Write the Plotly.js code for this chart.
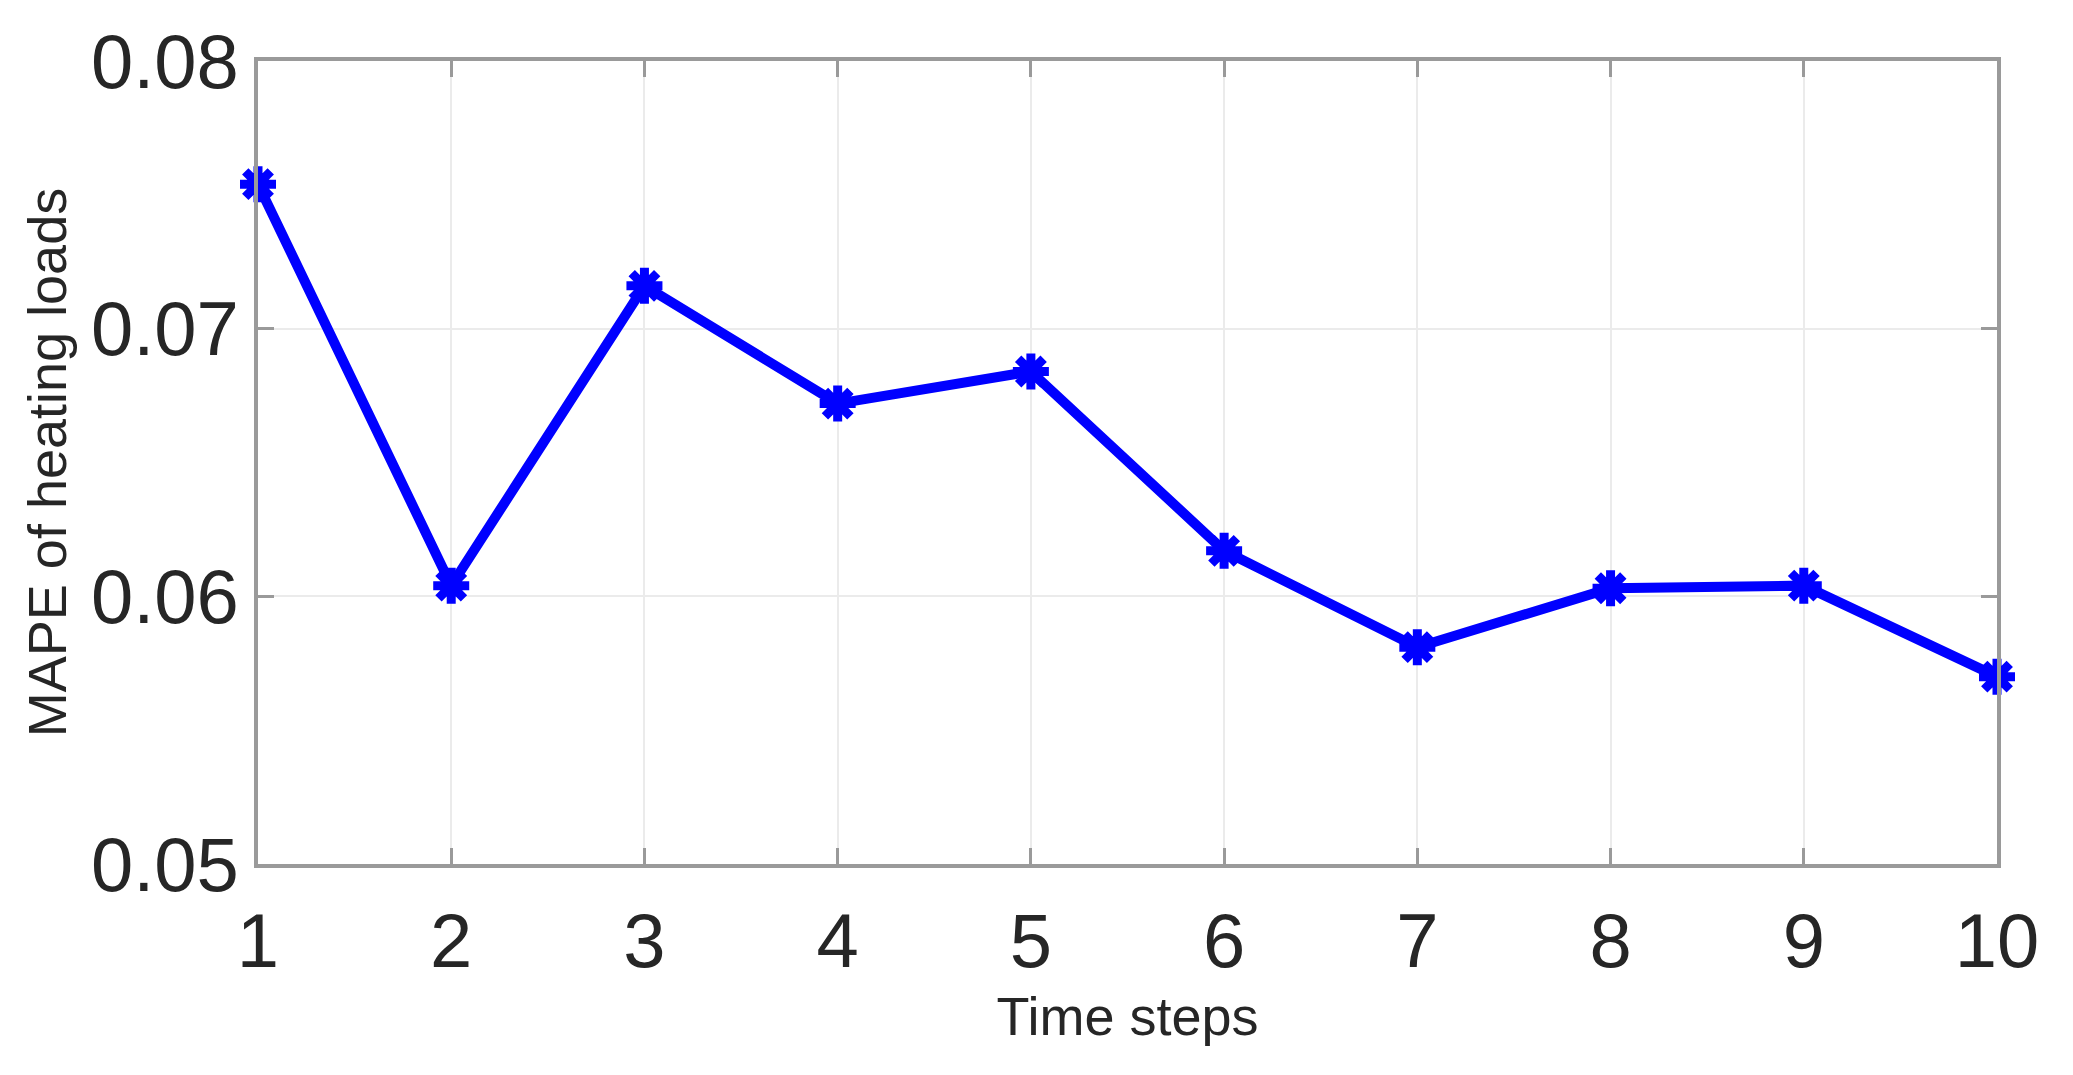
<!DOCTYPE html>
<html>
<head>
<meta charset="utf-8">
<script src="https://cdn.plot.ly/plotly-3.0.1.min.js"></script>
<style>
  html, body { margin: 0; padding: 0; background: #fff; }
</style>
</head>
<body>
<div id="mape_graph" style="width:2073px;height:1075px;"></div>
<script>
// colours
const blue = "#0000FF";
const axisGrey = "#9a9a9a";
const gridColor = "#ebebeb";
const textColor = "#262626";

// data
const time_steps = [1, 2, 3, 4, 5, 6, 7, 8, 9, 10];
const mape_heating = [0.0754, 0.0604, 0.0716, 0.0672, 0.0684, 0.0617, 0.0581, 0.0603, 0.0604, 0.0570];
const y_ticks = [0.05, 0.06, 0.07, 0.08];
const y_tick_labels = ['0.05', '0.06', '0.07', '0.08'];

function mapeChart() {
    var mape = {
        x: time_steps,
        y: mape_heating,
        mode: 'lines+markers',
        line: { color: blue, width: 10 },
        marker: {
            symbol: 'asterisk',
            size: 30,
            color: blue,
            line: { color: blue, width: 9 }
        },
        cliponaxis: false
    };

    var layout = {
        width: 2073,
        height: 1075,
        margin: { l: 258, r: 76, t: 61, b: 211 },
        paper_bgcolor: '#fff',
        plot_bgcolor: '#fff',
        showlegend: false,
        font: { family: 'Liberation Sans, Arial, sans-serif', color: textColor },
        xaxis: {
            range: [1, 10],
            tickvals: time_steps,
            ticks: 'inside',
            ticklen: 16,
            tickwidth: 3,
            tickcolor: axisGrey,
            showline: true,
            linecolor: axisGrey,
            linewidth: 4,
            mirror: 'ticks',
            showgrid: true,
            gridcolor: gridColor,
            gridwidth: 2,
            zeroline: false,
            ticklabelstandoff: 8,
            tickfont: { size: 76, color: textColor },
            title: { text: 'Time steps', font: { size: 54, color: textColor }, standoff: 16 }
        },
        yaxis: {
            range: [0.05, 0.08],
            tickvals: y_ticks,
            ticktext: y_tick_labels,
            ticks: 'inside',
            ticklen: 16,
            tickwidth: 3,
            tickcolor: axisGrey,
            showline: true,
            linecolor: axisGrey,
            linewidth: 4,
            mirror: 'ticks',
            showgrid: true,
            gridcolor: gridColor,
            gridwidth: 2,
            zeroline: false,
            ticklabelstandoff: 0,
            tickfont: { size: 76, color: textColor },
            title: { text: 'MAPE of heating loads', font: { size: 54, color: textColor }, standoff: 8 }
        }
    };

    Plotly.newPlot('mape_graph', [mape], layout, { displayModeBar: false, staticPlot: true });
}

mapeChart();
</script>
</body>
</html>
